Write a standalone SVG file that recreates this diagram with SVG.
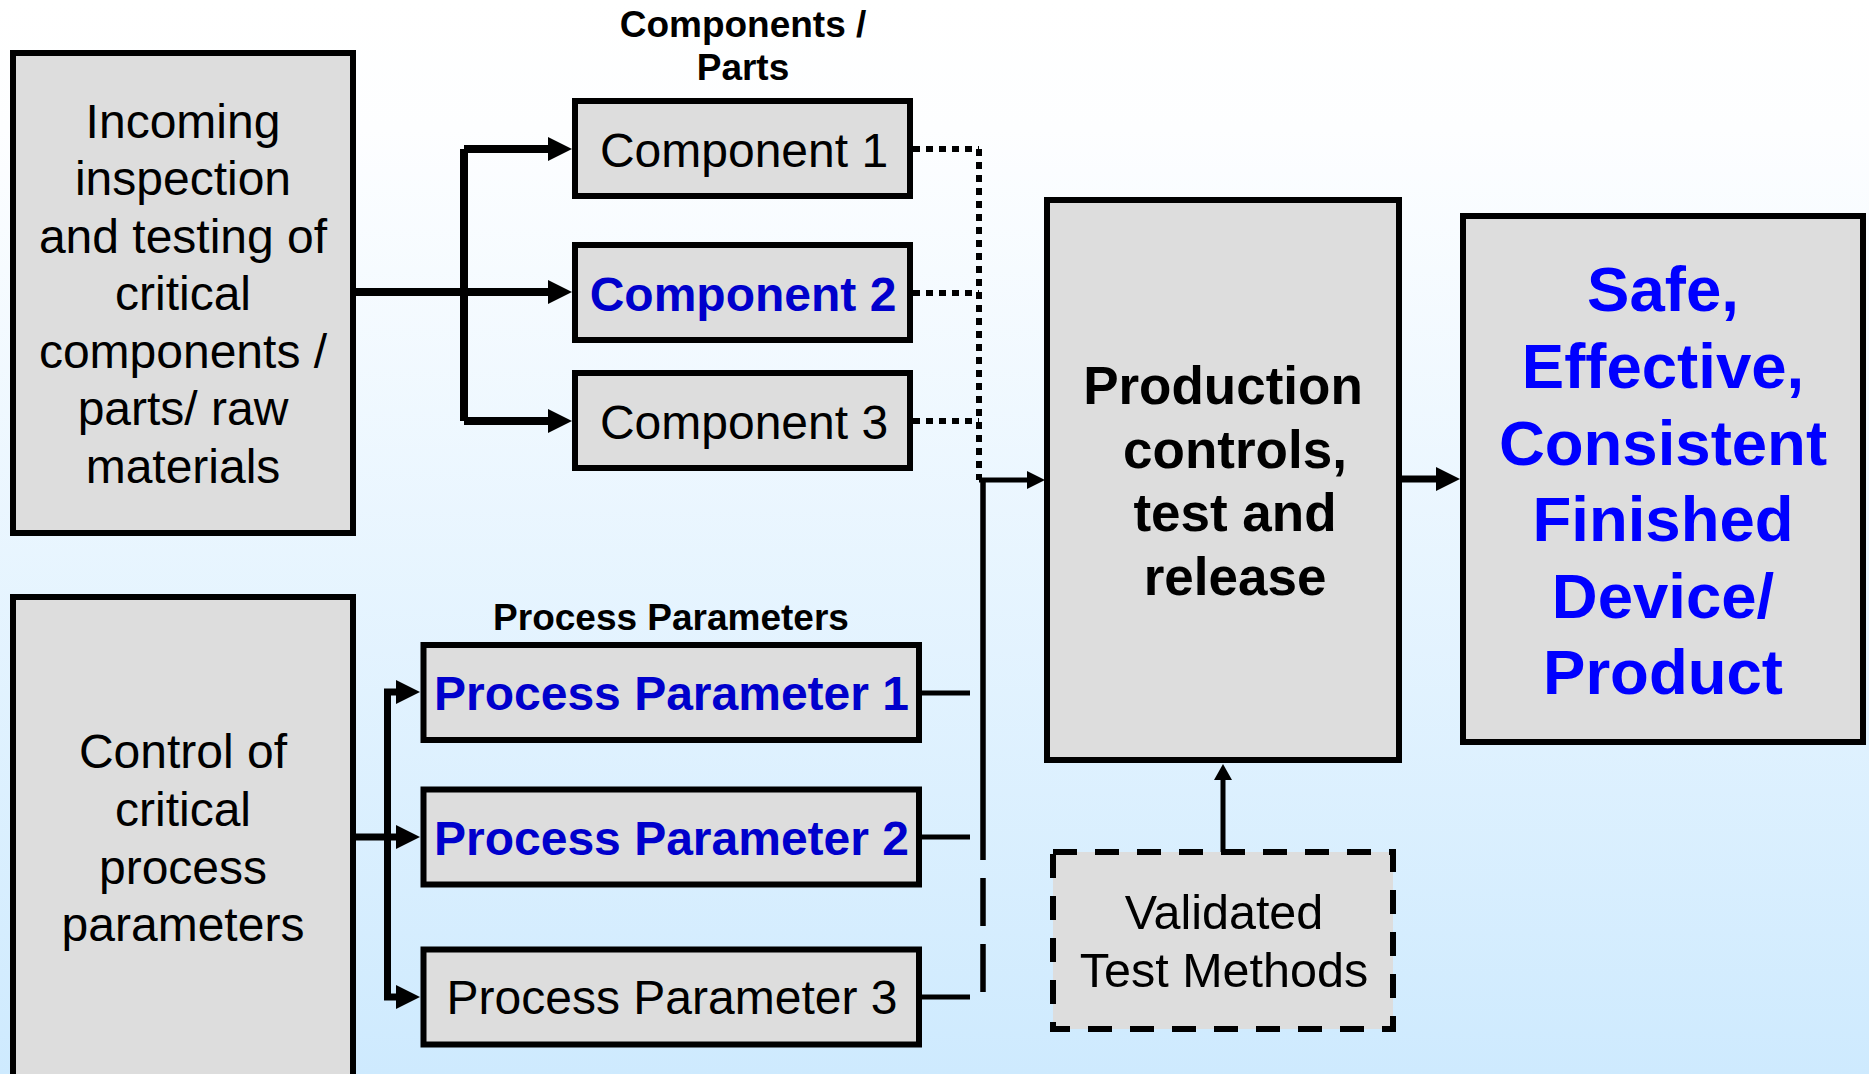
<svg xmlns="http://www.w3.org/2000/svg" width="1869" height="1074" viewBox="0 0 1869 1074">
  <defs>
    <linearGradient id="bg" x1="0" y1="0" x2="0" y2="1">
      <stop offset="0" stop-color="#FFFFFF"/>
      <stop offset="0.12" stop-color="#FDFEFF"/>
      <stop offset="1" stop-color="#CEEAFE"/>
    </linearGradient>
    <style>
      .box { fill: #DDDDDD; stroke: #000; stroke-width: 6; }
      .dash { fill: #DDDDDD; stroke: #000; stroke-width: 6; stroke-dasharray: 24 18; }
      .t { font-family: "Liberation Sans", Arial, sans-serif; text-anchor: middle; fill: #000; }
      .b { font-weight: bold; }
      .blue { fill: #0000CC; }
      .bright { fill: #0000FF; }
      .line { fill: none; stroke: #000; }
      .head { fill: #000; stroke: none; }
    </style>
  </defs>

  <rect x="0" y="0" width="1869" height="1074" fill="url(#bg)"/>

  <!-- connectors -->
  <g id="connectors">
    <!-- incoming inspection fan-out to components -->
    <path class="line" stroke-width="8" d="M356,292 H549 M464,149 V421 M464,149 H549 M464,421 H549"/>
    <polygon class="head" points="548,137 572,149 548,161"/>
    <polygon class="head" points="548,280 572,292 548,304"/>
    <polygon class="head" points="548,409 572,421 548,433"/>

    <!-- process control fan-out to parameters -->
    <path class="line" stroke-width="7" d="M356,837 H397 M387.5,692 V997 M384,692 H397 M384,997 H397"/>
    <polygon class="head" points="396,680 420,692 396,704"/>
    <polygon class="head" points="396,825 420,837 396,849"/>
    <polygon class="head" points="396,985 420,997 396,1009"/>

    <!-- components (dotted) into production -->
    <path class="line" stroke-width="6" stroke-dasharray="7 6" d="M913,149 H979 M913,293 H979 M913,421 H979 M979,149 V480"/>
    <path class="line" stroke-width="5" d="M979,480 H1028"/>
    <polygon class="head" points="1027,471 1045,480 1027,489"/>

    <!-- process parameters into production -->
    <path class="line" stroke-width="5" d="M922,693 H970 M922,837 H970 M922,997 H970"/>
    <path class="line" stroke-width="5.5" d="M983,478 V860 M983,878 V926 M983,944 V992"/>

    <!-- production to finished product -->
    <path class="line" stroke-width="7" d="M1402,479 H1437"/>
    <polygon class="head" points="1436,467 1460,479 1436,491"/>

    <!-- validated test methods up to production -->
    <path class="line" stroke-width="5" d="M1223,852 V779"/>
    <polygon class="head" points="1214,780 1223,764 1232,780"/>
  </g>

  <!-- headers -->
  <g id="header-components">
    <text class="t b" x="743" y="37" font-size="37">Components /</text>
    <text class="t b" x="743" y="80" font-size="37">Parts</text>
  </g>
  <g id="header-parameters">
    <text class="t b" x="671" y="630" font-size="37">Process Parameters</text>
  </g>

  <g id="incoming-inspection">
    <rect class="box" x="13" y="53" width="340" height="480"/>
    <text class="t" font-size="48"><tspan x="183" y="137.5">Incoming</tspan><tspan x="183" y="195">inspection</tspan><tspan x="183" y="252.5">and testing of</tspan><tspan x="183" y="310">critical</tspan><tspan x="183" y="367.5">components /</tspan><tspan x="183" y="425">parts/ raw</tspan><tspan x="183" y="482.5">materials</tspan></text>
  </g>

  <g id="process-control">
    <rect class="box" x="13" y="597" width="340" height="500"/>
    <text class="t" font-size="48"><tspan x="183" y="768">Control of</tspan><tspan x="183" y="826">critical</tspan><tspan x="183" y="883.5">process</tspan><tspan x="183" y="941">parameters</tspan></text>
  </g>

  <g id="component-1">
    <rect class="box" x="575" y="101" width="335" height="95"/>
    <text class="t" x="744" y="167" font-size="48">Component 1</text>
  </g>
  <g id="component-2">
    <rect class="box" x="575" y="245" width="335" height="95"/>
    <text class="t b blue" x="743" y="311" font-size="48">Component 2</text>
  </g>
  <g id="component-3">
    <rect class="box" x="575" y="373" width="335" height="95"/>
    <text class="t" x="744" y="439" font-size="48">Component 3</text>
  </g>

  <g id="parameter-1">
    <rect class="box" x="423.5" y="645" width="495.5" height="95"/>
    <text class="t b blue" x="671.5" y="710" font-size="48">Process Parameter 1</text>
  </g>
  <g id="parameter-2">
    <rect class="box" x="423.5" y="789.5" width="495.5" height="95"/>
    <text class="t b blue" x="671.5" y="854.5" font-size="48">Process Parameter 2</text>
  </g>
  <g id="parameter-3">
    <rect class="box" x="423.5" y="949.5" width="495.5" height="95"/>
    <text class="t" x="672" y="1014" font-size="48">Process Parameter 3</text>
  </g>

  <g id="production">
    <rect class="box" x="1047" y="200" width="352" height="560"/>
    <text class="t b" font-size="53"><tspan x="1223" y="404">Production</tspan><tspan x="1235" y="467.5">controls,</tspan><tspan x="1235" y="531">test and</tspan><tspan x="1235" y="595">release</tspan></text>
  </g>

  <g id="finished-product">
    <rect class="box" x="1463" y="216" width="400" height="526"/>
    <text class="t b bright" font-size="63.5"><tspan x="1663" y="311">Safe,</tspan><tspan x="1663" y="388">Effective,</tspan><tspan x="1663" y="465">Consistent</tspan><tspan x="1663" y="541">Finished</tspan><tspan x="1663" y="618">Device/</tspan><tspan x="1663" y="694">Product</tspan></text>
  </g>

  <g id="validated-methods">
    <rect class="dash" x="1053" y="852" width="340" height="177"/>
    <text class="t" font-size="48.5"><tspan x="1224" y="929">Validated</tspan><tspan x="1224" y="987">Test Methods</tspan></text>
  </g>
</svg>
